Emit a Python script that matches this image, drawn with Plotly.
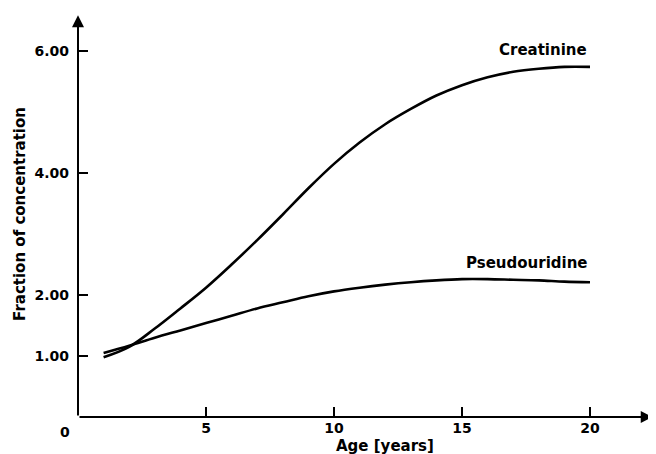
import plotly.graph_objects as go

age = [1, 2, 3, 4, 5, 6, 7, 8, 9, 10, 11, 12, 13, 14, 15, 16, 17, 18, 19, 20]
creatinine = [0.98, 1.15, 1.45, 1.78, 2.12, 2.50, 2.90, 3.32, 3.75, 4.15, 4.50, 4.80,
              5.05, 5.27, 5.44, 5.57, 5.66, 5.71, 5.74, 5.74]
pseudouridine = [1.05, 1.17, 1.30, 1.42, 1.54, 1.66, 1.78, 1.88, 1.98, 2.06, 2.12, 2.17,
                 2.21, 2.24, 2.26, 2.26, 2.25, 2.24, 2.22, 2.21]

x_ticks = [5, 10, 15, 20]
x_tick_text = ["5", "10", "15", "20"]
y_ticks = [1, 2, 4, 6]
y_tick_text = ["1.00", "2.00", "4.00", "6.00"]

FONT = "DejaVu Sans"
X_MAX = 22.5
Y_MAX = 6.607
PLOT_W = 576.0
PLOT_H = 403.0

fig = go.Figure()
fig.add_trace(go.Scatter(x=age, y=creatinine, mode="lines", name="Creatinine",
                         line=dict(color="black", width=2.6, shape="spline", smoothing=1.0)))
fig.add_trace(go.Scatter(x=age, y=pseudouridine, mode="lines", name="Pseudouridine",
                         line=dict(color="black", width=2.6, shape="spline", smoothing=1.0)))

# axes with arrowheads
fig.add_annotation(x=X_MAX - 0.05, y=0, ax=0, ay=0, xref="x", yref="y", axref="x", ayref="y",
                   showarrow=True, arrowhead=2, arrowsize=1.2, arrowwidth=2, arrowcolor="black", text="")
fig.add_annotation(x=0, y=Y_MAX - 0.02, ax=0, ay=0, xref="x", yref="y", axref="x", ayref="y",
                   showarrow=True, arrowhead=2, arrowsize=1.2, arrowwidth=2, arrowcolor="black", text="")

tick_font = dict(family=FONT, size=14, color="black", weight="bold")
lab_font = dict(family=FONT, size=15, color="black", weight="bold")
fig.add_annotation(x=18.16, y=6.02, text="Creatinine", showarrow=False, font=lab_font)
fig.add_annotation(x=17.54, y=2.52, text="Pseudouridine", showarrow=False, font=lab_font)
# outside-of-plot texts in paper coordinates
fig.add_annotation(xref="paper", yref="paper", x=-13 / PLOT_W, y=-15 / PLOT_H, text="0",
                   xanchor="center", yanchor="middle", showarrow=False, font=tick_font)
fig.add_annotation(xref="paper", yref="paper", x=307 / PLOT_W, y=-29 / PLOT_H, text="Age [years]",
                   xanchor="center", yanchor="middle", showarrow=False, font=lab_font)
fig.add_annotation(xref="paper", yref="paper", x=-58 / PLOT_W, y=0.504, text="Fraction of concentration",
                   xanchor="center", yanchor="middle", textangle=-90, showarrow=False, font=lab_font)

fig.update_layout(
    width=656, height=454,
    margin=dict(l=70, r=10, t=6, b=45),
    paper_bgcolor="white", plot_bgcolor="white",
    showlegend=False,
    font=dict(family=FONT, size=15, color="black"),
    xaxis=dict(range=[0, X_MAX], tickvals=x_ticks, ticktext=x_tick_text, ticks="inside",
               ticklen=10, tickwidth=1.5, tickcolor="black", showgrid=False, zeroline=False,
               showline=False, ticklabelstandoff=1, tickfont=tick_font),
    yaxis=dict(range=[0, Y_MAX], tickvals=y_ticks, ticktext=y_tick_text, ticks="inside",
               ticklen=10, tickwidth=1.5, tickcolor="black", showgrid=False, zeroline=False,
               showline=False, ticklabelstandoff=8, tickfont=tick_font),
)

fig.write_html("out.html")
